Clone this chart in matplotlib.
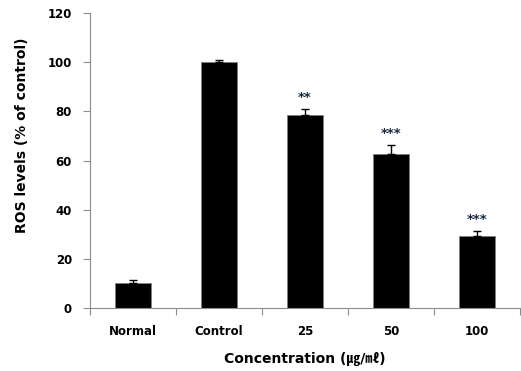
import matplotlib
matplotlib.use("Agg")
import matplotlib.pyplot as plt
import numpy as np

categories = ["Normal", "Control", "25", "50", "100"]
values = [10.3, 100.0, 78.7, 62.5, 29.4]
errors = [1.1, 1.0, 2.4, 3.9, 1.8]
stars = ["", "", "**", "***", "***"]
yticks = [0, 20, 40, 60, 80, 100, 120]

fig = plt.figure(figsize=(5.21, 3.71), dpi=100)
ax = fig.add_axes([90/521, 63/371, 430/521, 295/371])

x = np.arange(len(categories))
ax.bar(x, values, width=0.41, color="black", edgecolor="#808080", linewidth=0.6, zorder=2)
ax.errorbar(x, values, yerr=[np.zeros(len(errors)), errors], fmt="none",
            ecolor="black", elinewidth=1.0, capsize=3, capthick=1.0, zorder=3)
for xi, v, e, s in zip(x, values, errors, stars):
    if s:
        ax.text(xi, v + e + 2.0, s, ha="center", va="bottom", fontsize=9.5,
                fontweight="bold", color="#1c2b45")

ax.set_xlim(-0.5, len(categories) - 0.5)
ax.set_ylim(0, 120)
ax.set_yticks(yticks)
ax.set_yticklabels([str(t) for t in yticks], fontsize=8.5, fontweight="bold")
ax.set_xticks(x)
ax.set_xticklabels(categories, fontsize=8.5, fontweight="bold")
ax.set_xticks(np.arange(-0.5, len(categories)), minor=True)
ax.tick_params(axis="x", which="major", length=0, pad=12)
ax.tick_params(axis="x", which="minor", length=5, color="#8c8c8c", width=0.8)
ax.tick_params(axis="y", length=5, color="#8c8c8c", width=0.8, pad=8)

for side in ["top", "right"]:
    ax.spines[side].set_visible(False)
for side in ["left", "bottom"]:
    ax.spines[side].set_color("#8c8c8c")
    ax.spines[side].set_linewidth(0.8)

ax.set_ylabel("ROS levels (% of control)", fontsize=10, fontweight="bold")
ax.yaxis.set_label_coords(-0.142, 0.586)
ax.set_xlabel("Concentration (㎍/㎖)", fontsize=10, fontweight="bold", labelpad=10,
              family=["DejaVu Sans", "Noto Sans CJK KR"])

fig.savefig("out.png", dpi=100)
